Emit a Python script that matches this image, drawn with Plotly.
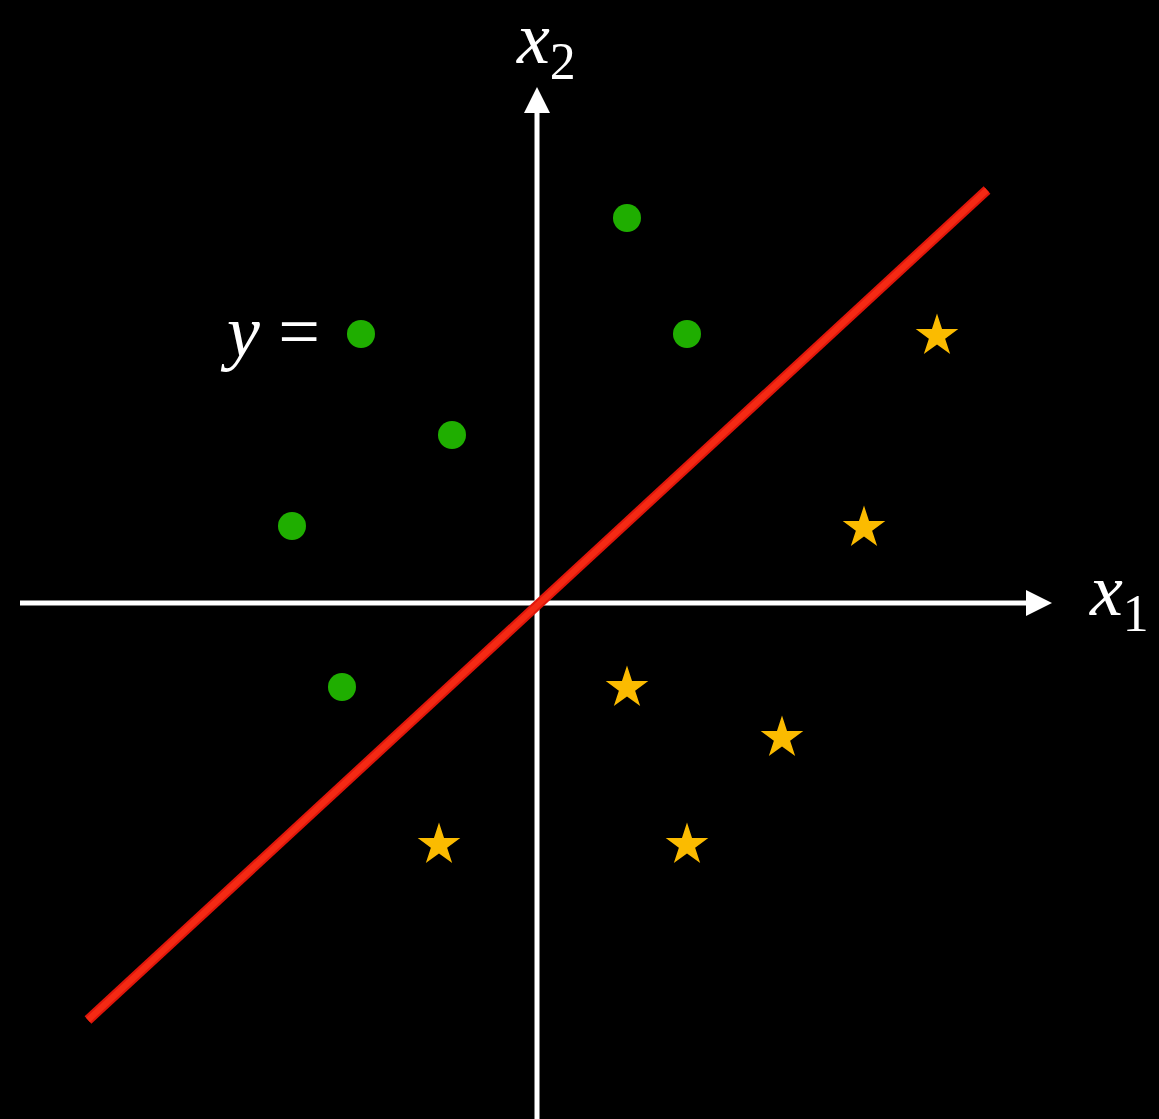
import plotly.graph_objects as go

# data (units: 1 = 100 px of the original picture)
green_x = [0.90, 1.50, -1.76, -0.85, -2.45, -1.95]
green_y = [3.85, 2.69, 2.69, 1.68, 0.77, -0.84]
star_x = [4.00, 3.27, 0.90, 2.45, -0.98, 1.50]
star_y = [2.67, 0.75, -0.85, -1.35, -2.42, -2.42]
line_x = [-4.49, 4.50]
line_y = [-4.17, 4.13]

# axis arrow tips
arrow_x_tip = [5.15]
arrow_y_tip = [5.16]

W, H = 1159, 1119
x0, y0 = 537, 603
xr = [-x0 / 100, (W - x0) / 100]
yr = [-(H - y0) / 100, y0 / 100]

fig = go.Figure()
axis_col = "white"
fig.add_shape(type="line", x0=-5.17, y0=0, x1=5.0, y1=0, line=dict(color=axis_col, width=5), layer="below")
fig.add_shape(type="line", x0=0, y0=-5.3, x1=0, y1=5.0, line=dict(color=axis_col, width=5), layer="below")
fig.add_trace(go.Scatter(x=arrow_x_tip, y=[0], mode="markers", hoverinfo="skip",
                         marker=dict(symbol="arrow-right", size=26, color=axis_col, line=dict(width=0))))
fig.add_trace(go.Scatter(x=[0], y=arrow_y_tip, mode="markers", hoverinfo="skip",
                         marker=dict(symbol="arrow-up", size=26, color=axis_col, line=dict(width=0))))

# red separating line (brush-like)
fig.add_trace(go.Scatter(x=line_x, y=line_y, mode="lines",
                         line=dict(color="#e0160b", width=10), hoverinfo="skip"))
fig.add_trace(go.Scatter(x=line_x, y=line_y, mode="lines",
                         line=dict(color="#f42a14", width=6), hoverinfo="skip"))
fig.add_trace(go.Scatter(x=green_x, y=green_y, mode="markers",
                         marker=dict(color="#1fae00", size=28, line=dict(width=0))))
fig.add_trace(go.Scatter(x=star_x, y=star_y, mode="markers",
                         marker=dict(color="#fbbb00", size=32, symbol="star", line=dict(width=0))))

fnt = dict(family="Liberation Serif", size=74, color="white")
fig.add_annotation(x=0.09, y=5.60, text="<i>x</i><sub>2</sub>", showarrow=False,
                   font=fnt, xanchor="center", yanchor="middle")
fig.add_annotation(x=5.50, y=0.08, text="<i>x</i><sub>1</sub>", showarrow=False,
                   font=fnt, xanchor="left", yanchor="middle")
fig.add_annotation(x=-2.67, y=2.72, text="<i>y</i> =", showarrow=False,
                   font=fnt, xanchor="center", yanchor="middle")

fig.update_layout(width=W, height=H, margin=dict(l=0, r=0, t=0, b=0),
                  paper_bgcolor="black", plot_bgcolor="black", showlegend=False,
                  xaxis=dict(range=xr, visible=False, fixedrange=True),
                  yaxis=dict(range=yr, visible=False, fixedrange=True))
fig.write_html("out.html", config={"displayModeBar": False},
               post_script="document.body.style.margin='0';document.body.style.background='black';")
